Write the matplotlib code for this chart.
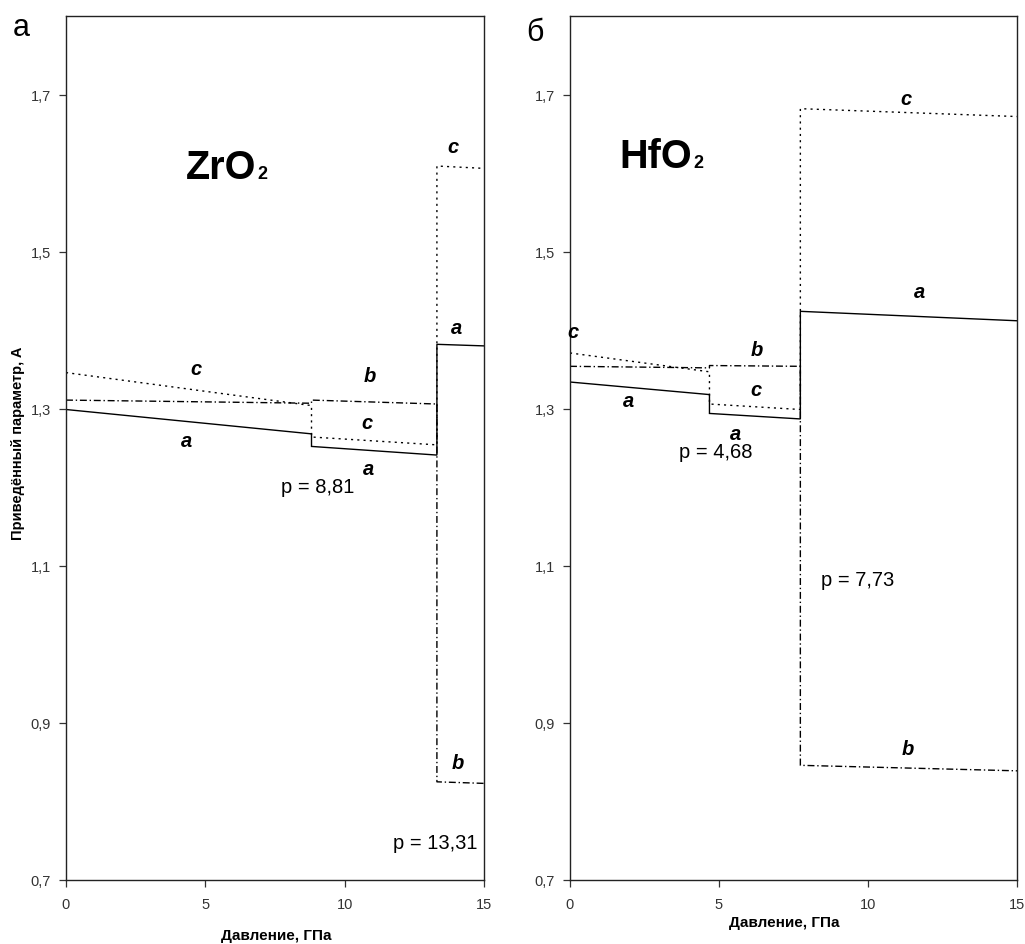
import matplotlib
matplotlib.use("Agg")
import matplotlib.pyplot as plt

plt.rcParams['font.family'] = ['Liberation Sans', 'DejaVu Sans']

# ---- data: ZrO2 (panel а) ----
zr_x = [0, 8.81, 8.81, 13.31, 13.31, 15]
zr_a = [1.299, 1.268, 1.252, 1.241, 1.382, 1.380]
zr_b = [1.311, 1.307, 1.311, 1.306, 0.825, 0.823]
zr_c = [1.346, 1.304, 1.264, 1.254, 1.609, 1.606]

# ---- data: HfO2 (panel б) ----
hf_x = [0, 4.68, 4.68, 7.73, 7.73, 15]
hf_a = [1.334, 1.318, 1.294, 1.287, 1.424, 1.412]
hf_b = [1.354, 1.352, 1.355, 1.354, 0.846, 0.839]
hf_c = [1.371, 1.347, 1.306, 1.299, 1.682, 1.672]

x_ticks = [0, 5, 10, 15]
y_ticks = [0.7, 0.9, 1.1, 1.3, 1.5, 1.7]
y_tick_labels = ['0,7', '0,9', '1,1', '1,3', '1,5', '1,7']

zr_labels = [('c', 4.66, 1.351), ('b', 10.91, 1.342), ('c', 10.80, 1.283),
             ('a', 4.34, 1.260), ('a', 10.87, 1.224), ('c', 13.89, 1.634),
             ('a', 14.03, 1.404), ('b', 14.07, 0.849)]
hf_labels = [('c', 0.10, 1.398), ('b', 6.28, 1.376), ('c', 6.24, 1.325),
             ('a', 1.95, 1.310), ('a', 5.54, 1.268), ('c', 11.28, 1.695),
             ('a', 11.74, 1.449), ('b', 11.34, 0.867)]
zr_p = [('p = 8,81', 9.04, 1.2006), ('p = 13,31', 13.24, 0.748)]
hf_p = [('p = 4,68', 4.90, 1.246), ('p = 7,73', 9.66, 1.083)]

W, H = 1025, 945
fig = plt.figure(figsize=(W / 100, H / 100), dpi=100)

def px_axes(l, r, t, b):
    return [l / W, (H - b) / H, (r - l) / W, (b - t) / H]

ax1 = fig.add_axes(px_axes(66, 484, 17, 881))
ax2 = fig.add_axes(px_axes(570, 1017, 17, 881))

lw = 1.0
for ax, x, a, b, c, labs, ps in [(ax1, zr_x, zr_a, zr_b, zr_c, zr_labels, zr_p),
                                 (ax2, hf_x, hf_a, hf_b, hf_c, hf_labels, hf_p)]:
    ax.plot(x, a, color='black', lw=lw, solid_joinstyle='miter')
    ax.plot(x, b, color='black', lw=lw, dashes=(5, 2, 1, 2))
    ax.plot(x, c, color='black', lw=lw, dashes=(1.5, 3))
    ax.set_xlim(0, 15)
    ax.set_ylim(0.7, 1.8)
    ax.set_xticks(x_ticks)
    ax.set_xticklabels([str(v) for v in x_ticks])
    ax.set_yticks(y_ticks)
    ax.set_yticklabels(y_tick_labels)
    ax.tick_params(direction='out', length=5, width=0.9, labelsize=10.5)
    ax.tick_params(axis='y', colors='#333333', labelcolor='#333333', pad=6)
    ax.tick_params(axis='x', colors='#333333', labelcolor='#333333', pad=7)
    for s in ax.spines.values():
        s.set_linewidth(1.0)
        s.set_color('#222222')
    for t, xx, yy in labs:
        ax.text(xx, yy, t, fontsize=14.5, fontweight='bold', fontstyle='italic',
                ha='center', va='center')
    for t, xx, yy in ps:
        ax.text(xx, yy, t, fontsize=14.5, ha='center', va='center')

# formula titles
ax1.text(6.82, 1.5943, 'ZrO', fontsize=28.5, fontweight='bold', ha='right', va='baseline')
ax1.text(6.88, 1.5943, '2', fontsize=13, fontweight='bold', ha='left', va='baseline')
ax2.text(4.08, 1.6083, 'HfO', fontsize=28.5, fontweight='bold', ha='right', va='baseline')
ax2.text(4.14, 1.6083, '2', fontsize=13, fontweight='bold', ha='left', va='baseline')

# axis labels
fig.text(276 / W, (H - 936) / H, 'Давление, ГПа', fontsize=11, fontweight='bold',
         ha='center', va='center')
fig.text(784 / W, (H - 923) / H, 'Давление, ГПа', fontsize=11, fontweight='bold',
         ha='center', va='center')
fig.text(18 / W, (H - 443) / H, 'Приведённый параметр, A', fontsize=10.5,
         fontweight='bold', rotation=90, ha='center', va='center')

# panel letters
fig.text(21 / W, (H - 28) / H, 'а', fontsize=22, ha='center', va='center')
fig.text(535 / W, (H - 33) / H, 'б', fontsize=22, ha='center', va='center')

fig.savefig('out.png', dpi=100)
